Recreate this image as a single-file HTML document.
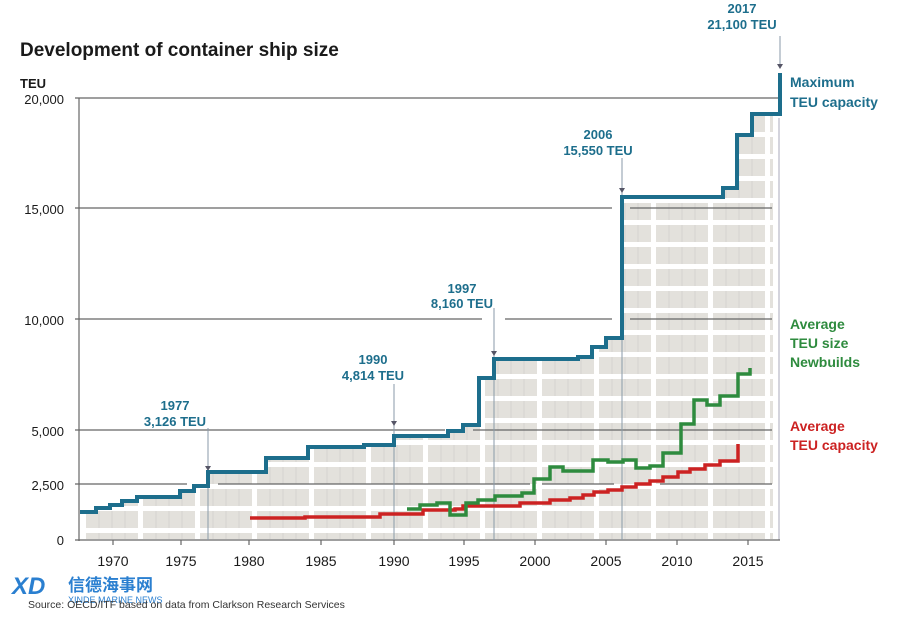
<!DOCTYPE html>
<html><head><meta charset="utf-8"><style>
html,body{margin:0;padding:0;background:#fff;}
svg text{font-family:"Liberation Sans","Noto Sans CJK SC",sans-serif;}
</style></head><body>
<svg width="900" height="614" viewBox="0 0 900 614" xmlns="http://www.w3.org/2000/svg">
<defs>
<pattern id="br" x="84" y="0" width="57" height="22" patternUnits="userSpaceOnUse">
<rect width="57" height="22" fill="#fff"/>
<rect x="0" y="3" width="52" height="17" fill="#e3e1dc"/>
<path d="M13 3V20M26 3V20M39 3V20" stroke="#d6d4cf" stroke-width="1"/>
</pattern>
<clipPath id="cl"><rect x="84" y="0" width="687" height="537"/></clipPath>
</defs>
<text x="20" y="56" font-size="19" font-weight="bold" fill="#1a1a1a">Development of container ship size</text>
<text x="20" y="88" font-size="13" font-weight="bold" fill="#1a1a1a">TEU</text>
<g font-size="13" fill="#1a1a1a" text-anchor="end">
<text x="64" y="104">20,000</text><text x="64" y="214">15,000</text><text x="64" y="325">10,000</text>
<text x="64" y="436">5,000</text><text x="64" y="490">2,500</text><text x="64" y="545">0</text>
</g>
<path clip-path="url(#cl)" fill="url(#br)" d="M80,512 H96 V508 H110 V505 H122 V501 H137 V497 H180 V491 H194 V486 H208 V472 H266 V458 H308 V447 H364 V445 H394 V436 H448 V431 H463 V425 H479 V378 H494 V359 H578 V357 H592 V347 H606 V338 H622 V197 H723 V188 H737 V135 H752 V114 H780 V540 H80 Z" transform="translate(2,2)"/>
<line x1="779" y1="118" x2="779" y2="540" stroke="#aab" stroke-width="1"/>
<g stroke="#666" stroke-width="1.2">
<line x1="75" y1="98" x2="780" y2="98"/>
<line x1="75" y1="208" x2="612" y2="208"/><line x1="630" y1="208" x2="772" y2="208"/>
<line x1="75" y1="319" x2="482" y2="319"/><line x1="505" y1="319" x2="612" y2="319"/><line x1="630" y1="319" x2="772" y2="319"/>
<line x1="75" y1="430" x2="445" y2="430"/><line x1="473" y1="430" x2="772" y2="430"/>
<line x1="75" y1="484" x2="187" y2="484"/><line x1="218" y1="484" x2="530" y2="484"/><line x1="542" y1="484" x2="614" y2="484"/><line x1="660" y1="484" x2="772" y2="484"/>
<line x1="79" y1="98" x2="79" y2="541"/><line x1="75" y1="540" x2="780" y2="540"/>
</g>
<g stroke="#8a9aa8" stroke-width="1">
<line x1="208" y1="428" x2="208" y2="540"/><line x1="394" y1="384" x2="394" y2="540"/>
<line x1="494" y1="308" x2="494" y2="540"/><line x1="622" y1="158" x2="622" y2="540"/>
<line x1="780" y1="36" x2="780" y2="68"/>
</g>
<g fill="#556">
<path d="M205,466 L211,466 L208,471Z"/><path d="M391,421 L397,421 L394,426Z"/><path d="M491,351 L497,351 L494,356Z"/><path d="M619,188 L625,188 L622,193Z"/><path d="M777,64 L783,64 L780,69Z"/>
</g>
<g stroke="#666" stroke-width="1.2">
<line x1="113" y1="540" x2="113" y2="545"/><line x1="181" y1="540" x2="181" y2="545"/><line x1="249" y1="540" x2="249" y2="545"/><line x1="321" y1="540" x2="321" y2="545"/><line x1="394" y1="540" x2="394" y2="545"/><line x1="464" y1="540" x2="464" y2="545"/><line x1="535" y1="540" x2="535" y2="545"/><line x1="606" y1="540" x2="606" y2="545"/><line x1="677" y1="540" x2="677" y2="545"/><line x1="748" y1="540" x2="748" y2="545"/>
</g>
<g font-size="14" fill="#1a1a1a" text-anchor="middle">
<text x="113" y="566">1970</text><text x="181" y="566">1975</text><text x="249" y="566">1980</text><text x="321" y="566">1985</text><text x="394" y="566">1990</text><text x="464" y="566">1995</text><text x="535" y="566">2000</text><text x="606" y="566">2005</text><text x="677" y="566">2010</text><text x="748" y="566">2015</text>
</g>
<path fill="none" stroke="#cc2222" stroke-width="3.5" d="M250,518 H305 V517 H380 V514 H423 V510 H455 V509 H463 V506 H520 V503 H550 V500 H570 V498 H583 V495 H594 V492 H608 V490 H622 V487 H636 V484 H650 V481 H663 V477 H678 V472 H690 V469 H705 V465 H720 V461 H738 V444"/>
<path fill="none" stroke="#2e8b3e" stroke-width="3.5" d="M407,509 H420 V505 H437 V503 H450 V515 H466 V503 H478 V500 H495 V496 H522 V493 H534 V479 H550 V467 H563 V471 H593 V460 H608 V462 H623 V460 H636 V468 H650 V466 H663 V453 H681 V424 H694 V400 H707 V405 H720 V396 H738 V374 H750 V368"/>
<path fill="none" stroke="#1d6e8c" stroke-width="4" d="M80,512 H96 V508 H110 V505 H122 V501 H137 V497 H180 V491 H194 V486 H208 V472 H266 V458 H308 V447 H364 V445 H394 V436 H448 V431 H463 V425 H479 V378 H494 V359 H578 V357 H592 V347 H606 V338 H622 V197 H723 V188 H737 V135 H752 V114 H780 V73"/>
<g font-size="13" fill="#1d6e8c" text-anchor="middle" font-weight="bold">
<text x="742" y="13">2017</text><text x="742" y="29">21,100 TEU</text>
<text x="598" y="139">2006</text><text x="598" y="155">15,550 TEU</text>
<text x="462" y="293">1997</text><text x="462" y="308">8,160 TEU</text>
<text x="373" y="364">1990</text><text x="373" y="380">4,814 TEU</text>
<text x="175" y="410">1977</text><text x="175" y="426">3,126 TEU</text>
</g>
<g font-size="14" font-weight="bold">
<text x="790" y="87" fill="#1d6e8c">Maximum</text><text x="790" y="107" fill="#1d6e8c">TEU capacity</text>
<text x="790" y="329" fill="#2e8b3e">Average</text><text x="790" y="348" fill="#2e8b3e">TEU size</text><text x="790" y="367" fill="#2e8b3e">Newbuilds</text>
<text x="790" y="431" fill="#cc2222">Average</text><text x="790" y="450" fill="#cc2222">TEU capacity</text>
</g>
<text x="12" y="594" font-size="24" font-weight="bold" fill="#2a7fd0" font-style="italic">XD</text>
<text x="68" y="591" font-size="17" font-weight="bold" fill="#2a7fd0">信德海事网</text>
<text x="68" y="603" font-size="9" fill="#2a7fd0">XINDE MARINE NEWS</text>
<text x="28" y="608" font-size="10.5" fill="#333">Source: OECD/ITF based on data from Clarkson Research Services</text>
</svg>
</body></html>
